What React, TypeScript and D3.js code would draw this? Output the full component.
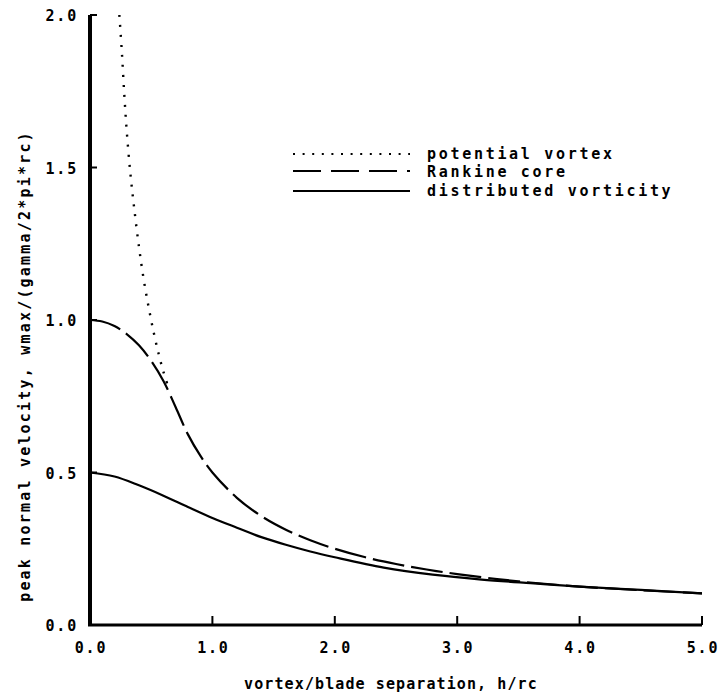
import React from "react";
import * as d3 from "d3";

const potentialH = [0.24, 0.26, 0.28, 0.30, 0.33, 0.36, 0.40, 0.44, 0.48, 0.52, 0.56, 0.60, 0.64];
const potentialV = [2.0, 1.88, 1.74, 1.62, 1.48, 1.37, 1.24, 1.13, 1.04, 0.96, 0.89, 0.83, 0.78];

const rankineH = [0, 0.1, 0.2, 0.3, 0.4, 0.5, 0.6, 0.7, 0.8, 0.9, 1.0, 1.2, 1.4, 1.6, 1.8, 2.0, 2.25, 2.5, 2.75, 3.0, 3.5, 4.0, 4.5, 5.0];
const rankineV = [1.0, 0.995, 0.98, 0.954, 0.917, 0.866, 0.80, 0.714, 0.625, 0.556, 0.50, 0.417, 0.357, 0.3125, 0.278, 0.25, 0.222, 0.20, 0.182, 0.167, 0.143, 0.126, 0.114, 0.104];

const distH = [0, 0.2, 0.4, 0.6, 0.8, 1.0, 1.2, 1.4, 1.6, 1.8, 2.0, 2.4, 2.8, 3.2, 3.6, 4.0, 4.5, 5.0];
const distV = [0.5, 0.487, 0.458, 0.424, 0.387, 0.351, 0.319, 0.288, 0.263, 0.241, 0.222, 0.188, 0.165, 0.149, 0.137, 0.126, 0.115, 0.104];

const xTicks = [0, 1, 2, 3, 4, 5];
const yTicks = [0, 0.5, 1.0, 1.5, 2.0];

const legendLabels = ["potential vortex", "Rankine core", "distributed vorticity"];

const FONT = "'DejaVu Sans Mono', monospace";

export default function App() {
  const x = d3.scaleLinear().domain([0, 5]).range([90, 702]);
  const y = d3.scaleLinear().domain([0, 2]).range([625, 15]);
  const line = d3
    .line<[number, number]>()
    .x((d) => x(d[0]))
    .y((d) => y(d[1]))
    .curve(d3.curveCatmullRom.alpha(0.5));

  const pot = potentialH.map((h, i) => [h, potentialV[i]] as [number, number]);
  const ran = rankineH.map((h, i) => [h, rankineV[i]] as [number, number]);
  const dis = distH.map((h, i) => [h, distV[i]] as [number, number]);

  const base = {
    fontFamily: FONT,
    fontWeight: 700,
    fontSize: 15,
    fill: "#000",
  };
  const legendStyle = { ...base, letterSpacing: 2.7 } as React.CSSProperties;
  const tickStyle = { ...base, letterSpacing: 1.8 } as React.CSSProperties;
  const xTitleStyle = { ...base, letterSpacing: 1.1 } as React.CSSProperties;
  const yTitleStyle = { ...base, letterSpacing: 2.2 } as React.CSSProperties;

  const legendY = [154, 171, 191];
  const legendText = [159, 176.5, 195.5];
  const dashes = ["2,7.6", "28,10", ""];

  return (
    <svg
      width={721}
      height={700}
      style={{ position: "absolute", left: 0, top: 0, background: "#fff" }}
    >
      <rect x={0} y={0} width={721} height={700} fill="#fff" />
      {/* curves */}
      <path d={line(dis) || ""} fill="none" stroke="#000" strokeWidth={2.2} />
      <path
        d={line(ran) || ""}
        fill="none"
        stroke="#000"
        strokeWidth={2.2}
        strokeDasharray="32,7"
      />
      <path
        d={line(pot) || ""}
        fill="none"
        stroke="#000"
        strokeWidth={2.4}
        strokeDasharray="2,8"
      />

      {/* axes */}
      <line x1={x(0)} x2={x(0)} y1={y(2)} y2={y(0)} stroke="#000" strokeWidth={4} />
      <line x1={x(0) - 2} x2={x(5)} y1={y(0)} y2={y(0)} stroke="#000" strokeWidth={3} />
      {yTicks
        .filter((t) => t > 0)
        .map((t) => (
          <line key={"yt" + t} x1={x(0)} x2={x(0) + 7} y1={y(t)} y2={y(t)} stroke="#000" strokeWidth={2} />
        ))}
      {xTicks
        .filter((t) => t > 0)
        .map((t) => (
          <line key={"xt" + t} x1={x(t)} x2={x(t)} y1={y(0)} y2={y(0) - 9} stroke="#000" strokeWidth={2} />
        ))}

      {/* tick labels */}
      {yTicks.map((t) => (
        <text key={"yl" + t} x={78} y={y(t) + 6} textAnchor="end" style={tickStyle}>
          {t.toFixed(1)}
        </text>
      ))}
      {xTicks.map((t) => (
        <text key={"xl" + t} x={x(t) + 1} y={653} textAnchor="middle" style={tickStyle}>
          {t.toFixed(1)}
        </text>
      ))}

      {/* axis titles */}
      <text x={391} y={689} textAnchor="middle" style={xTitleStyle}>
        vortex/blade separation, h/rc
      </text>
      <text
        transform="translate(30,366) rotate(-90)"
        textAnchor="middle"
        style={yTitleStyle}
      >
        peak normal velocity, wmax/(gamma/2*pi*rc)
      </text>

      {/* legend */}
      {legendLabels.map((lab, i) => (
        <g key={lab}>
          <line
            x1={293}
            x2={410}
            y1={legendY[i]}
            y2={legendY[i]}
            stroke="#000"
            strokeWidth={2.2}
            strokeDasharray={dashes[i] || undefined}
          />
          <text x={427} y={legendText[i]} style={legendStyle}>
            {lab}
          </text>
        </g>
      ))}
    </svg>
  );
}
